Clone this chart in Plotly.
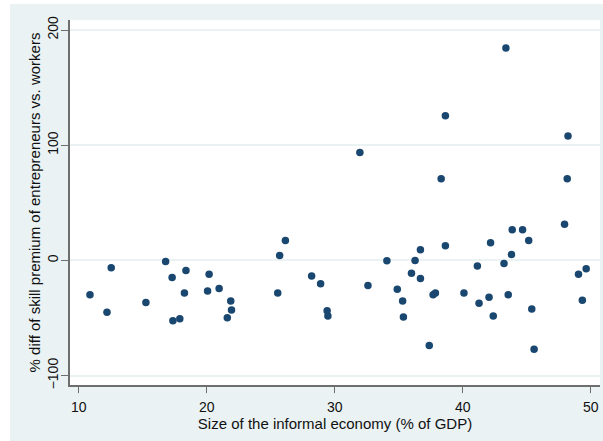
import plotly.graph_objects as go

# Size of the informal economy (% of GDP)
informal_size = [
    10.87, 12.2, 12.53, 15.24, 16.78, 17.29, 17.35, 17.89, 18.25, 18.37,
    20.06, 20.18, 20.96, 21.6, 21.87, 21.93, 25.54, 25.69, 26.14, 28.19,
    28.89, 29.4, 29.46, 31.96, 32.59, 34.07, 34.88, 35.3, 35.36, 35.99,
    36.27, 36.69, 36.69, 37.38, 37.68, 37.86, 38.31, 38.64, 38.64, 40.09,
    41.14, 41.27, 42.05, 42.17, 42.38, 43.22, 43.37, 43.55, 43.8, 43.86,
    44.67, 45.15, 45.39, 45.57, 47.95, 48.16, 48.22, 49.04, 49.34, 49.64,
]

# % difference of skill premium, entrepreneurs vs. workers
premium_diff = [
    -29.7, -45.0, -6.4, -36.6, -0.9, -14.8, -52.3, -50.6, -28.2, -8.7,
    -26.5, -11.9, -24.4, -49.7, -35.2, -43.0, -28.2, 4.4, 17.4, -13.4,
    -20.3, -43.6, -48.3, 93.6, -21.8, -0.3, -25.0, -35.2, -49.1, -11.0,
    0.0, 9.3, -15.7, -73.8, -29.7, -28.2, 70.9, 125.6, 12.8, -28.2,
    -4.9, -37.2, -32.0, 15.4, -48.3, -2.6, 184.3, -29.7, 5.2, 26.7,
    26.7, 17.4, -42.2, -77.0, 31.4, 70.9, 108.1, -11.9, -34.6, -7.3,
]

x_ticks = [10, 20, 30, 40, 50]
y_ticks = [-100, 0, 100, 200]

W, H = 603, 441
ML, MR, MT, MB = 70, 3, 20, 56
PW, PH = W - ML - MR, H - MT - MB

BG = "#eaf2f3"
NAVY = "#1a476f"
AXIS = "#6e6e6e"
FONT = "Liberation Sans, Arial, sans-serif"

fig = go.Figure(
    go.Scatter(
        x=informal_size,
        y=premium_diff,
        mode="markers",
        marker=dict(color=NAVY, size=7.5, line=dict(width=0)),
        showlegend=False,
    )
)

# thin white border along the left and top edges of the page
fig.add_shape(type="rect", xref="paper", yref="paper", layer="below",
              x0=-ML / PW, x1=-(ML - 10) / PW, y0=-MB / PH, y1=1 + MT / PH,
              fillcolor="white", line=dict(width=0))
fig.add_shape(type="rect", xref="paper", yref="paper", layer="below",
              x0=-ML / PW, x1=1 + MR / PW, y0=1 + (MT - 4) / PH, y1=1 + MT / PH,
              fillcolor="white", line=dict(width=0))

fig.update_layout(
    width=W,
    height=H,
    margin=dict(l=ML, r=MR, t=MT, b=MB, autoexpand=False),
    paper_bgcolor=BG,
    plot_bgcolor="white",
    font=dict(family=FONT, size=14, color="#111111"),
    xaxis=dict(
        range=[9.31, 50.72],
        tickvals=x_ticks,
        ticks="outside",
        ticklen=6,
        tickcolor=AXIS,
        tickwidth=1,
        showgrid=False,
        zeroline=False,
        showline=True,
        linecolor=AXIS,
        linewidth=1.5,
        tickfont=dict(size=14),
        ticklabelstandoff=2,
        title=dict(text="Size of the informal economy (% of GDP)",
                   font=dict(size=15), standoff=0),
    ),
    yaxis=dict(
        range=[-108.1, 208.7],
        tickvals=y_ticks,
        tickangle=-90,
        ticks="outside",
        ticklen=7,
        tickcolor=AXIS,
        tickwidth=1,
        showgrid=True,
        gridcolor=BG,
        gridwidth=1.5,
        zeroline=False,
        showline=True,
        linecolor=AXIS,
        linewidth=1.5,
        tickfont=dict(size=14),
        ticklabelstandoff=-2,
        title=dict(text="% diff of skill premium of entrepreneurs vs. workers",
                   font=dict(size=15), standoff=0),
    ),
)

fig.write_html("out.html")
